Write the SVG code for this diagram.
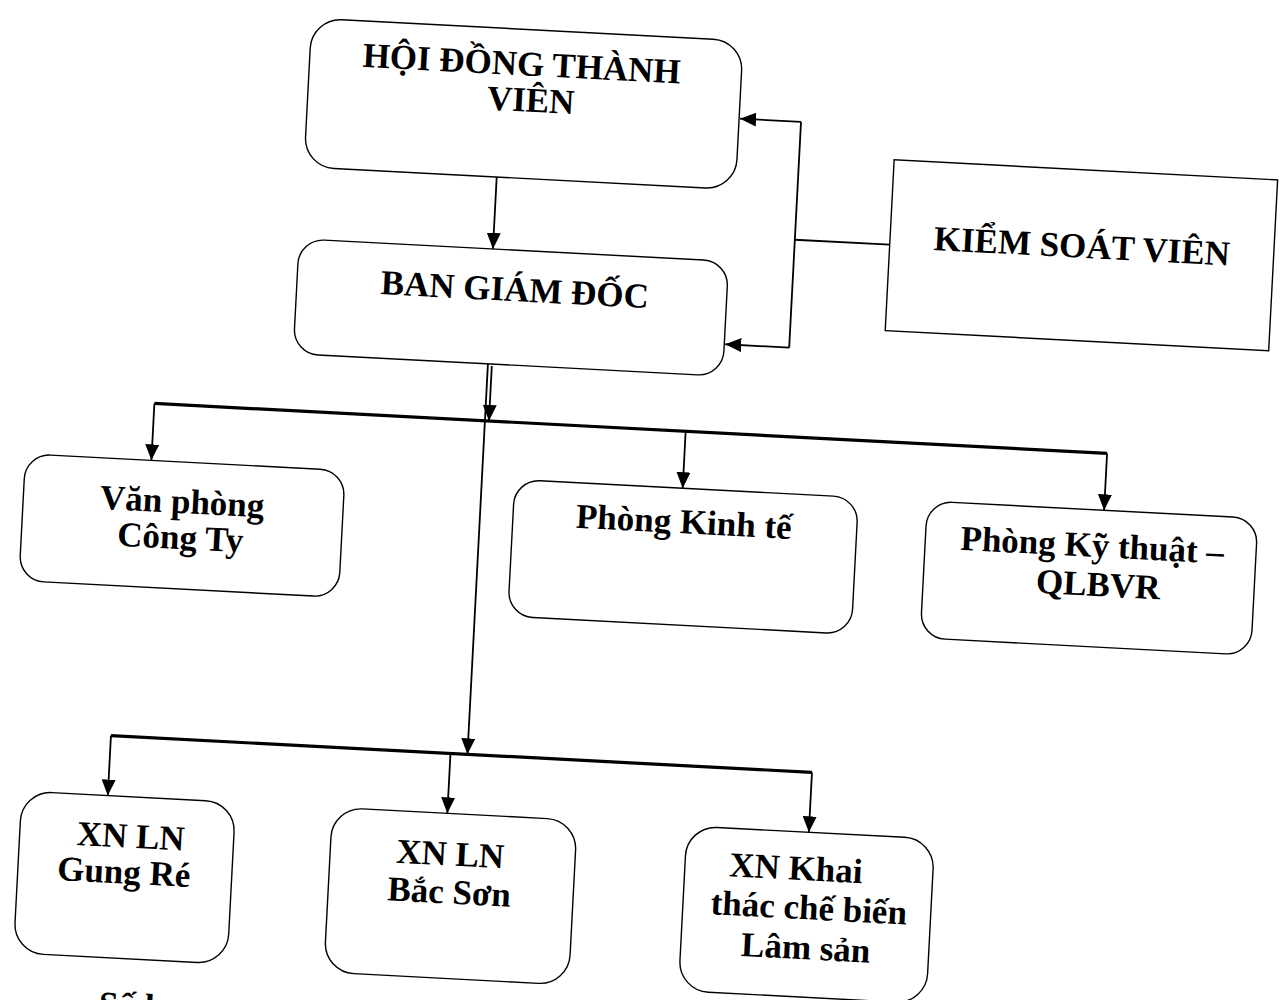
<svg xmlns="http://www.w3.org/2000/svg" width="1282" height="1000" viewBox="0 0 1282 1000">
<style>
.box{fill:#fff;stroke:#000;stroke-width:1.4}
.t{font-family:"Liberation Serif","Times New Roman",serif;font-weight:bold;font-size:35px;fill:#000;text-anchor:middle}
.c{stroke:#000;stroke-width:1.8;fill:none}
.bar{stroke:#000;stroke-width:3.2;fill:none}
</style>
<defs>
<marker id="ah" viewBox="0 0 16 14" refX="16" refY="7" markerWidth="16" markerHeight="14" markerUnits="userSpaceOnUse" orient="auto">
<path d="M0,0 L16,7 L0,14 Z" fill="#000"/>
</marker>
</defs>
<rect width="1282" height="1000" fill="#fff"/>
<g transform="rotate(3 640 500)">
<g id="connectors">
<path class="c" d="M480,185 L480,257" marker-end="url(#ah)"/>
<path class="c" d="M876,232 L781,232"/>
<path class="c" d="M781,114 L781,340"/>
<path class="c" d="M781,114 L720,114" marker-end="url(#ah)"/>
<path class="c" d="M781,340 L717,340" marker-end="url(#ah)"/>
<path class="c" d="M485,374 L485,429" marker-end="url(#ah)"/>
<path class="bar" d="M150,429 L1104,429"/>
<path class="c" d="M150,429 L150,486" marker-end="url(#ah)"/>
<path class="c" d="M682,429 L682,486" marker-end="url(#ah)"/>
<path class="c" d="M1104,429 L1104,486" marker-end="url(#ah)"/>
<path class="c" d="M481,372 L481,763" marker-end="url(#ah)"/>
<path class="bar" d="M124,763 L826,763"/>
<path class="c" d="M124,763 L124,823" marker-end="url(#ah)"/>
<path class="c" d="M464,763 L464,823" marker-end="url(#ah)"/>
<path class="c" d="M826,763 L826,823" marker-end="url(#ah)"/>
</g>
<g id="hoi-dong-thanh-vien">
<rect class="box" x="287" y="36" width="432" height="149" rx="30"/>
<text class="t" x="499" y="82">HỘI ĐỒNG THÀNH</text>
<text class="t" x="510" y="118">VIÊN</text>
</g>
<g id="ban-giam-doc">
<rect class="box" x="286" y="257" width="430" height="115" rx="25"/>
<text class="t" x="504" y="308">BAN GIÁM ĐỐC</text>
</g>
<g id="kiem-soat-vien">
<rect class="box" x="876" y="147" width="384" height="171"/>
<text class="t" x="1068" y="235">KIỂM SOÁT VIÊN</text>
</g>
<g id="van-phong">
<rect class="box" x="24" y="486" width="320" height="127" rx="25"/>
<text class="t" x="183" y="537">Văn phòng</text>
<text class="t" x="183" y="573">Công Ty</text>
</g>
<g id="phong-kinh-te">
<rect class="box" x="514" y="486" width="344" height="137" rx="25"/>
<text class="t" x="685" y="531">Phòng Kinh tế</text>
</g>
<g id="phong-ky-thuat">
<rect class="box" x="927" y="486" width="331" height="137" rx="25"/>
<text class="t" x="1094" y="533">Phòng Kỹ thuật –</text>
<text class="t" x="1102" y="572">QLBVR</text>
</g>
<g id="xn-gung-re">
<rect class="box" x="38" y="823" width="214" height="162" rx="30"/>
<text class="t" x="149" y="874">XN LN</text>
<text class="t" x="144" y="910">Gung Ré</text>
</g>
<g id="xn-bac-son">
<rect class="box" x="349" y="823" width="245" height="165" rx="30"/>
<text class="t" x="469" y="875">XN LN</text>
<text class="t" x="470" y="913">Bắc Sơn</text>
</g>
<g id="xn-khai-thac">
<rect class="box" x="704" y="823" width="248" height="165" rx="30"/>
<text class="t" x="815" y="871">XN Khai</text>
<text class="t" x="830" y="910">thác chế biến</text>
<text class="t" x="829" y="950">Lâm sản</text>
</g>
<text class="t" x="126" y="1043" style="text-anchor:start">Số l</text>
</g>
</svg>
